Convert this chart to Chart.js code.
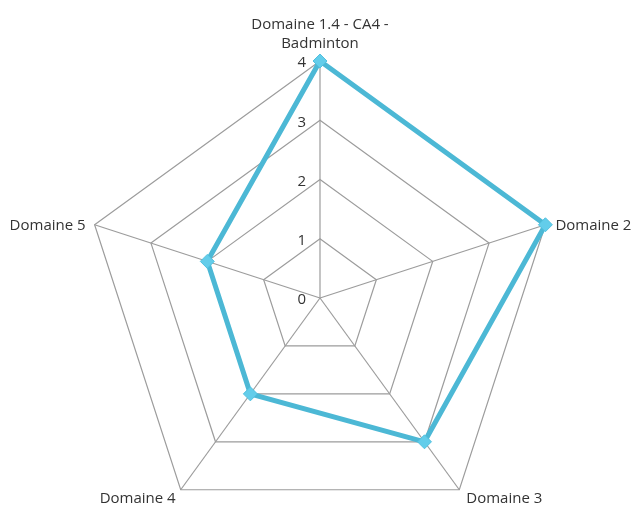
<!DOCTYPE html>
<html>
<head>
<meta charset="utf-8">
<script src="https://cdn.jsdelivr.net/npm/chart.js@4/dist/chart.umd.min.js"></script>
<style>
  html, body { margin: 0; padding: 0; background: #fff; }
  #wrap { width: 633px; height: 506px; }
</style>
</head>
<body>
<div id="wrap"><canvas id="chart-radar" width="633" height="506"></canvas></div>
<script>
// values
const categories = [["Domaine 1.4 - CA4 -", "Badminton"], "Domaine 2", "Domaine 3", "Domaine 4", "Domaine 5"];
const seriesValues = [4, 4, 3, 2, 2];
const tickValues = [0, 1, 2, 3, 4];

const font = "15px 'Open Sans', sans-serif";
const textColor = "#333";

// label offsets from each outer vertex: [dx, dy, align]
const labelOffsets = [
  [0, -17, "center"],
  [10, 1, "left"],
  [7, 9, "left"],
  [-5, 9, "right"],
  [-9, 1, "right"],
];

const labelsPlugin = {
  id: "radarLabels",
  afterDraw(chart) {
    const scale = chart.scales.r;
    const ctx = chart.ctx;
    ctx.save();
    ctx.font = font;
    ctx.fillStyle = textColor;
    ctx.textBaseline = "middle";

    // tick numbers sit just left of the vertical axis
    ctx.textAlign = "right";
    tickValues.forEach((v) => {
      const d = scale.getDistanceFromCenterForValue(v);
      ctx.fillText(String(v), scale.xCenter - 14, scale.yCenter - d + 2);
    });

    // category labels
    categories.forEach((label, i) => {
      const pos = scale.getPointPosition(i, scale.drawingArea);
      const [dx, dy, align] = labelOffsets[i];
      const lines = Array.isArray(label) ? label : [label];
      ctx.textAlign = align;
      lines.forEach((line, k) => {
        const y = pos.y + dy - (lines.length - 1 - k) * 19;
        ctx.fillText(line, pos.x + dx, y);
      });
    });
    ctx.restore();
  },
};

new Chart(document.getElementById("chart-radar").getContext("2d"), {
  type: "radar",
  data: {
    labels: categories,
    datasets: [{
      label: "Badminton",
      data: seriesValues,
      borderColor: "#4cb8d5",
      borderWidth: 5,
      fill: false,
      pointStyle: "rectRot",
      pointRadius: 7,
      pointBackgroundColor: "#63cdea",
      pointBorderColor: "#52c0de",
      pointBorderWidth: 1,
    }],
  },
  options: {
    responsive: false,
    animation: false,
    plugins: { legend: { display: false }, tooltip: { enabled: false } },
    scales: {
      r: {
        min: 0,
        max: 4,
        ticks: { stepSize: 1, display: false },
        grid: { color: "#9c9c9c", lineWidth: 1.2 },
        angleLines: { color: "#9c9c9c", lineWidth: 1.2 },
        pointLabels: { display: false },
        afterFit(scale) {
          scale.xCenter = 320;
          scale.yCenter = 298;
          scale.drawingArea = 237;
        },
      },
    },
  },
  plugins: [labelsPlugin],
});
</script>
</body>
</html>
